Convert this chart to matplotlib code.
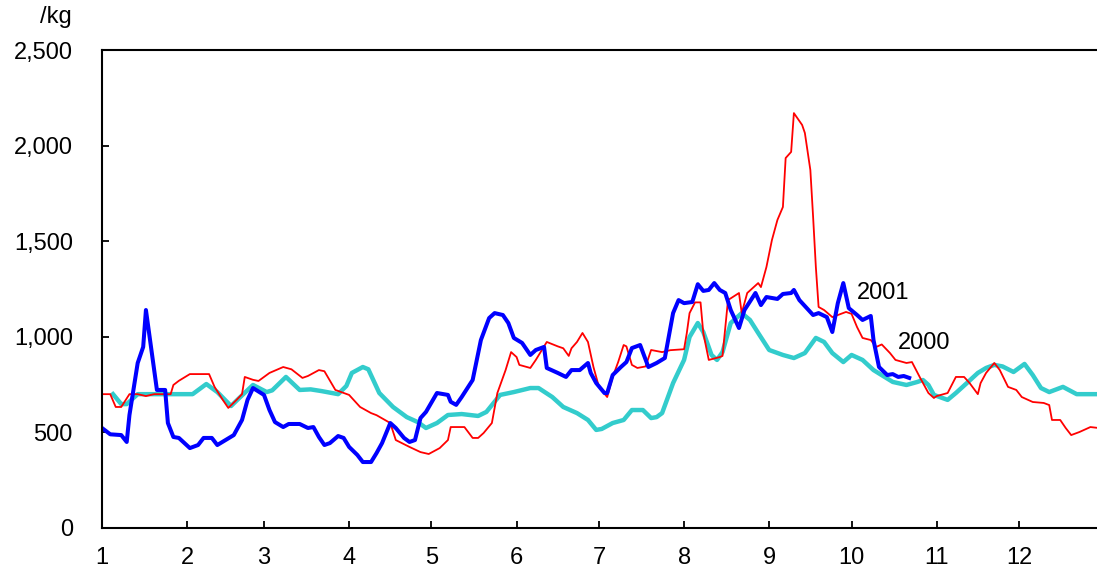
import matplotlib.pyplot as plt
from matplotlib.ticker import FuncFormatter

plt.rcParams['font.family'] = ['Liberation Sans', 'DejaVu Sans']

# day of year of the first day of each month
month_start = [1, 32, 60, 91, 121, 152, 182, 213, 244, 274, 305, 335]
month_labels = [str(m) for m in range(1, 13)]

# 2001 (blue)
days_2001 = [1, 4, 8, 10, 11, 14, 16, 17, 21, 24, 25, 27, 29, 33, 36, 38, 41, 43,
             46, 49, 52, 54, 56, 60, 62, 64, 67, 69, 73, 76, 78, 80, 82, 84, 87,
             89, 91, 94, 96, 99, 101, 103, 106, 108, 111, 113, 115, 117, 119, 123,
             127, 128, 130, 132, 136, 139, 142, 144, 147, 149, 151, 154, 157, 159,
             162, 163, 167, 170, 172, 175, 178, 179, 181, 184, 185, 187, 190, 192,
             194, 197, 200, 203, 206, 209, 211, 213, 216, 218, 220, 222, 224, 226,
             228, 230, 233, 235, 239, 241, 243, 247, 249, 252, 253, 255, 260, 262,
             265, 267, 269, 271, 273, 276, 278, 281, 282, 284, 287, 289, 291, 293,
             295]
price_2001 = [523, 490, 486, 450, 591, 863, 947, 1140, 722, 722, 549, 476, 471, 418,
              434, 471, 471, 434, 460, 486, 565, 670, 732, 696, 617, 554, 528, 544,
              544, 523, 528, 476, 434, 444, 481, 471, 424, 382, 345, 345, 392, 444,
              549, 523, 471, 450, 460, 575, 607, 706, 696, 660, 644, 685, 774, 983,
              1098, 1124, 1114, 1072, 994, 968, 905, 931, 947, 837, 811, 790, 826,
              826, 863, 811, 758, 706, 706, 800, 842, 868, 941, 957, 842, 863, 889,
              1124, 1192, 1176, 1182, 1275, 1240, 1245, 1281, 1245, 1229, 1140, 1046,
              1140, 1229, 1166, 1208, 1198, 1224, 1229, 1245, 1192, 1114, 1124, 1103,
              1025, 1176, 1281, 1150, 1114, 1088, 1109, 983, 842, 800, 805, 790, 795,
              785]

# 2000 (red)
days_2000 = [1, 4, 6, 8, 11, 14, 17, 20, 24, 26, 27, 29, 33, 40, 42, 45, 47, 50, 52,
             53, 56, 58, 60, 62, 67, 70, 74, 76, 80, 82, 86, 91, 95, 99, 101, 106,
             108, 113, 117, 120, 124, 127, 128, 133, 136, 138, 140, 143, 145, 148,
             150, 152, 153, 157, 159, 163, 167, 169, 171, 172, 174, 176, 178, 180,
             182, 185, 187, 189, 191, 192, 194, 196, 199, 201, 205, 208, 213, 214,
             215, 217, 219, 220, 222, 226, 227, 229, 233, 234, 236, 240, 241, 243,
             245, 247, 249, 250, 252, 253, 256, 257, 259, 260, 261, 262, 264, 267,
             272, 274, 276, 278, 281, 283, 285, 288, 290, 294, 296, 299, 302, 304,
             305, 309, 312, 315, 317, 320, 321, 323, 326, 328, 331, 334, 336, 340,
             344, 346, 347, 350, 352, 354, 357, 361, 364]
price_2000 = [700, 700, 633, 633, 700, 700, 690, 700, 700, 700, 748, 770, 805, 805,
              738, 670, 628, 670, 700, 790, 775, 769, 790, 811, 842, 830, 785, 795,
              826, 820, 722, 696, 633, 601, 590, 549, 460, 424, 397, 387, 418, 460,
              528, 528, 471, 471, 497, 549, 706, 826, 920, 894, 853, 837, 879, 973,
              950, 940, 900, 940, 973, 1020, 973, 842, 738, 685, 790, 868, 957, 950,
              853, 837, 845, 931, 920, 930, 935, 1020, 1124, 1180, 1180, 1020, 879,
              894, 900, 1192, 1229, 1124, 1229, 1281, 1260, 1365, 1506, 1611, 1679,
              1935, 1967, 2170, 2108, 2066, 1872, 1627, 1365, 1156, 1140, 1103, 1130,
              1120, 1051, 994, 983, 947, 960, 915, 879, 863, 868, 785, 706, 680, 690,
              706, 790, 790, 758, 700, 758, 811, 863, 826, 738, 722, 685, 659, 654,
              643, 565, 565, 523, 486, 502, 528, 523]

# average year (cyan)
days_avg = [5, 8, 10, 14, 34, 39, 43, 48, 51, 56, 61, 63, 68, 73, 77, 81, 87, 90, 92,
            96, 98, 102, 107, 112, 116, 119, 123, 127, 132, 138, 141, 146, 151, 157,
            160, 165, 169, 174, 178, 181, 183, 187, 191, 194, 198, 201, 203, 205, 209,
            213, 215, 218, 220, 223, 225, 227, 230, 234, 237, 240, 244, 249, 253, 257,
            261, 264, 267, 271, 274, 278, 282, 289, 294, 298, 300, 302, 304, 309, 312,
            316, 320, 323, 326, 329, 333, 337, 340, 343, 346, 351, 356, 364]
price_avg = [700, 648, 648, 700, 700, 753, 711, 638, 680, 748, 711, 720, 790, 722,
             725, 716, 700, 743, 811, 842, 830, 706, 633, 580, 554, 523, 549, 591,
             596, 586, 607, 696, 711, 732, 732, 685, 633, 601, 565, 513, 518, 549,
             565, 617, 617, 575, 580, 601, 758, 879, 999, 1072, 1025, 905, 879, 920,
             1072, 1124, 1088, 1020, 931, 905, 889, 915, 994, 973, 915, 868, 905,
             879, 826, 764, 748, 764, 774, 748, 696, 670, 706, 758, 811, 837, 853,
             845, 816, 858, 800, 732, 711, 738, 700, 700]

fig = plt.figure(figsize=(10.97, 5.75), dpi=100)
ax = fig.add_axes([102 / 1097, 47 / 575, 995 / 1097, 478 / 575])

ax.plot(days_avg, price_avg, color='#33CCCC', lw=3.2, solid_joinstyle='round')
ax.plot(days_2000, price_2000, color='#FF0000', lw=1.3)
ax.plot(days_2001, price_2001, color='#0000FF', lw=2.9, solid_joinstyle='round')

ax.text(276, 1229, '2001', fontsize=17, ha='left', va='center')
ax.text(291, 968, '2000', fontsize=17, ha='left', va='center')

ax.set_xlim(1, 363.4)
ax.set_ylim(0, 2500)
ax.set_xticks(month_start)
ax.set_xticklabels(month_labels)
ax.set_yticks(range(0, 2501, 500))
ax.yaxis.set_major_formatter(FuncFormatter(lambda v, p: f'{int(v):,}'))

ax.spines['right'].set_visible(False)
for s in ['left', 'bottom', 'top']:
    ax.spines[s].set_linewidth(1.5)
ax.tick_params(direction='in', length=5, width=1.3, labelsize=17)
ax.tick_params(axis='y', pad=21)
ax.tick_params(axis='x', pad=14)

fig.text(72 / 1097, 1 - 17 / 575, '/kg', fontsize=17, ha='right', va='center')

plt.savefig('out.png', dpi=100)
